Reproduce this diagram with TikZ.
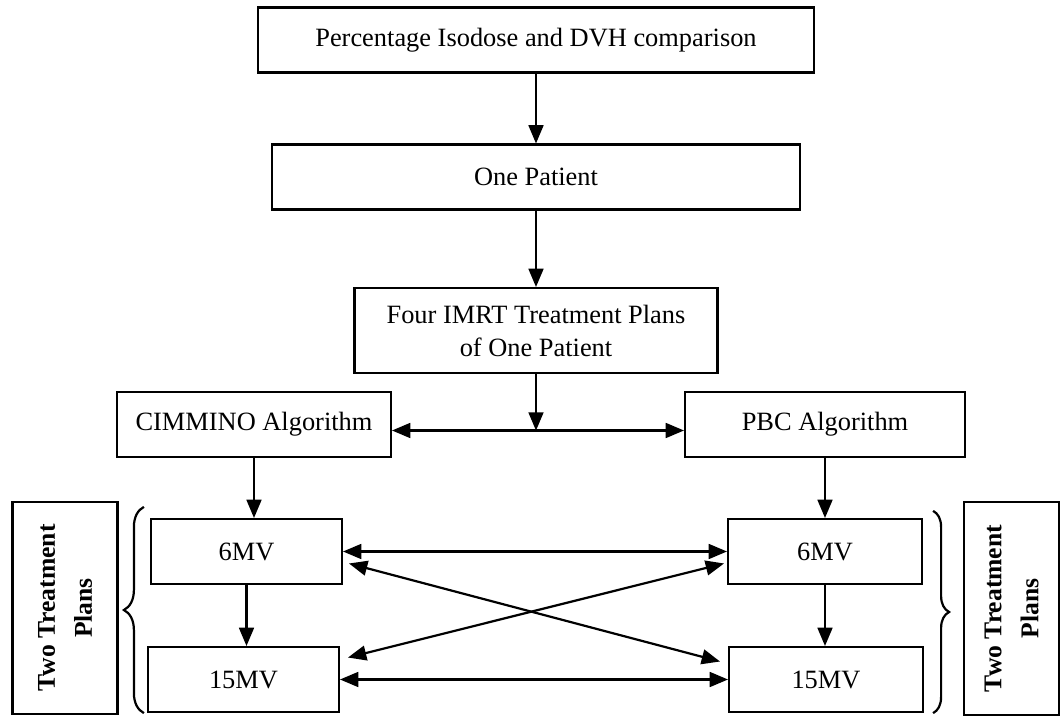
\documentclass[tikz,border=0pt]{standalone}
\usepackage{fontspec}
\setmainfont{Liberation Serif}
\usetikzlibrary{arrows}
\usetikzlibrary{positioning}
\usetikzlibrary{decorations.pathreplacing}

\begin{document}
\begin{tikzpicture}[x=0.5pt,y=-0.5pt,>=triangle 45,line width=1.1pt,
box/.style={draw,inner sep=0pt,align=center,minimum height=32.5pt,
font=\fontsize{13.2}{16.5}\selectfont},
side/.style={draw,inner sep=0pt,align=center,rotate=90,
font=\bfseries\fontsize{12.8}{18.5}\selectfont},
brc/.style={decorate,decoration={brace,amplitude=#1}}]
\useasboundingbox (0,0) rectangle (1062,717);
% top chain
\node[box,minimum width=278pt] (top) at (536,40) {Percentage Isodose and DVH comparison};
\node[box,minimum width=264pt] (pat) at (536,177) {One Patient};
\node[box,minimum width=181.5pt,minimum height=42.5pt] (plans) at (536,330.5) {Four IMRT Treatment Plans\\of One Patient};
\node[box,minimum width=137pt] (cim) at (254,424.5) {CIMMINO Algorithm};
\node[box,minimum width=140pt] (pbc) at (825,424.5) {PBC Algorithm};
% energies
\node[box,minimum width=95.5pt] (a6) at (246.5,551.5) {6MV};
\node[box,minimum width=95.5pt] (a15) at (243.5,679.5) {15MV};
\node[box,minimum width=97pt] (b6) at (825,551.5) {6MV};
\node[box,minimum width=97pt] (b15) at (826,679.5) {15MV};
\node[side,minimum width=106pt,minimum height=52.5pt] (la) at (65,608) {Two Treatment\\Plans};
\node[side,minimum width=106.5pt,minimum height=47.5pt] (lb) at (1011.5,608.5) {Two Treatment\\Plans};
\coordinate (cj) at ([yshift=-3pt]cim.east);
\draw[->] (top.south) -- (pat.north);
\draw[->] (pat.south) -- (plans.north);
\draw[<->] (cj) -- (cj -| pbc.west);
\draw[->] (plans.south) -- (plans.south |- cj);
\draw[->] (cim.south) -- (cim.south |- a6.north);
\draw[->] (pbc.south) -- (pbc.south |- b6.north);
\draw[->] (a6.south) -- (a6.south |- a15.north);
\draw[->] (b6.south) -- (b6.south |- b15.north);
\draw[<->] (a6.east) -- (b6.west);
\draw[<->] (a15.east) -- (b15.west);
\draw[<->] ([xshift=3pt,yshift=-6pt]a6.east) -- ([xshift=-4pt,yshift=9pt]b15.west);
\draw[<->] ([xshift=4pt,yshift=11pt]a15.east) -- ([xshift=-1.5pt,yshift=-6pt]b6.west);
% braces
\draw[brc=10pt] ([xshift=-1.5pt]a15.south west) -- ([xshift=-3pt,yshift=5.5pt]a6.north west);
\draw[brc=8pt] ([xshift=5pt,yshift=3.5pt]b6.north east) -- ([xshift=4.5pt]b15.south east);
\end{tikzpicture}
\end{document}
